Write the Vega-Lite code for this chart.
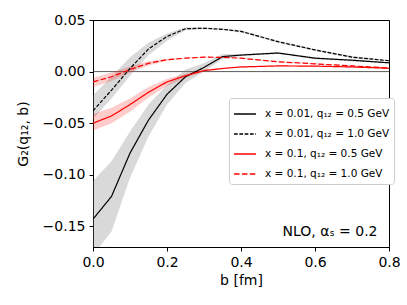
{
  "$schema": "https://vega.github.io/schema/vega-lite/v6.json",
  "width": 296,
  "height": 227,
  "autosize": "none",
  "padding": {"left": 93, "top": 20, "right": 18, "bottom": 58},
  "config": {
    "font": "DejaVu Sans",
    "view": {"stroke": "#000", "strokeWidth": 1},
    "axis": {
      "grid": false, "domainColor": "#000", "tickColor": "#000", "tickSize": 4,
      "labelFontSize": 14, "labelColor": "#000", "titleFontSize": 14, "titleFontWeight": "normal",
      "titleColor": "#000", "labelPadding": 4, "labelFlush": false
    },
    "legend": {
      "orient": "none", "legendX": 136, "legendY": 78, "fillColor": "#fff", "strokeColor": "#cccccc",
      "padding": 4, "cornerRadius": 3, "labelFontSize": 10.5, "labelColor": "#000",
      "symbolType": "stroke", "symbolSize": 480, "symbolStrokeWidth": 1.3, "rowPadding": 2, "labelOffset": 8
    }
  },
  "datasets": {
    "curves": [
    {"b": 0, "x": "0.01", "s": "x = 0.01, q₁₂ = 0.5 GeV", "y": -0.143, "lo": -0.178, "hi": -0.106},
    {"b": 0.05, "x": "0.01", "s": "x = 0.01, q₁₂ = 0.5 GeV", "y": -0.121, "lo": -0.155, "hi": -0.087},
    {"b": 0.1, "x": "0.01", "s": "x = 0.01, q₁₂ = 0.5 GeV", "y": -0.079, "lo": -0.103, "hi": -0.058},
    {"b": 0.15, "x": "0.01", "s": "x = 0.01, q₁₂ = 0.5 GeV", "y": -0.047, "lo": -0.063, "hi": -0.032},
    {"b": 0.2, "x": "0.01", "s": "x = 0.01, q₁₂ = 0.5 GeV", "y": -0.022, "lo": -0.032, "hi": -0.013},
    {"b": 0.25, "x": "0.01", "s": "x = 0.01, q₁₂ = 0.5 GeV", "y": -0.005, "lo": -0.011, "hi": 0.002},
    {"b": 0.3, "x": "0.01", "s": "x = 0.01, q₁₂ = 0.5 GeV", "y": 0.004, "lo": 0.0, "hi": 0.008},
    {"b": 0.35, "x": "0.01", "s": "x = 0.01, q₁₂ = 0.5 GeV", "y": 0.0145, "lo": 0.012, "hi": 0.017},
    {"b": 0.4, "x": "0.01", "s": "x = 0.01, q₁₂ = 0.5 GeV", "y": 0.016, "lo": 0.015, "hi": 0.017},
    {"b": 0.5, "x": "0.01", "s": "x = 0.01, q₁₂ = 0.5 GeV", "y": 0.018, "lo": 0.017, "hi": 0.019},
    {"b": 0.6, "x": "0.01", "s": "x = 0.01, q₁₂ = 0.5 GeV", "y": 0.013, "lo": 0.012, "hi": 0.014},
    {"b": 0.7, "x": "0.01", "s": "x = 0.01, q₁₂ = 0.5 GeV", "y": 0.011, "lo": 0.010, "hi": 0.012},
    {"b": 0.8, "x": "0.01", "s": "x = 0.01, q₁₂ = 0.5 GeV", "y": 0.0085, "lo": 0.008, "hi": 0.009},

    {"b": 0, "x": "0.01", "s": "x = 0.01, q₁₂ = 1.0 GeV", "y": -0.038, "lo": -0.046, "hi": -0.023},
    {"b": 0.05, "x": "0.01", "s": "x = 0.01, q₁₂ = 1.0 GeV", "y": -0.018, "lo": -0.026, "hi": -0.005},
    {"b": 0.1, "x": "0.01", "s": "x = 0.01, q₁₂ = 1.0 GeV", "y": 0.003, "lo": -0.004, "hi": 0.014},
    {"b": 0.15, "x": "0.01", "s": "x = 0.01, q₁₂ = 1.0 GeV", "y": 0.022, "lo": 0.016, "hi": 0.028},
    {"b": 0.2, "x": "0.01", "s": "x = 0.01, q₁₂ = 1.0 GeV", "y": 0.034, "lo": 0.030, "hi": 0.037},
    {"b": 0.25, "x": "0.01", "s": "x = 0.01, q₁₂ = 1.0 GeV", "y": 0.0415, "lo": 0.040, "hi": 0.043},
    {"b": 0.3, "x": "0.01", "s": "x = 0.01, q₁₂ = 1.0 GeV", "y": 0.042, "lo": 0.041, "hi": 0.043},
    {"b": 0.35, "x": "0.01", "s": "x = 0.01, q₁₂ = 1.0 GeV", "y": 0.041, "lo": 0.040, "hi": 0.042},
    {"b": 0.4, "x": "0.01", "s": "x = 0.01, q₁₂ = 1.0 GeV", "y": 0.039, "lo": 0.038, "hi": 0.040},
    {"b": 0.5, "x": "0.01", "s": "x = 0.01, q₁₂ = 1.0 GeV", "y": 0.029, "lo": 0.028, "hi": 0.030},
    {"b": 0.6, "x": "0.01", "s": "x = 0.01, q₁₂ = 1.0 GeV", "y": 0.021, "lo": 0.020, "hi": 0.022},
    {"b": 0.7, "x": "0.01", "s": "x = 0.01, q₁₂ = 1.0 GeV", "y": 0.014, "lo": 0.013, "hi": 0.015},
    {"b": 0.8, "x": "0.01", "s": "x = 0.01, q₁₂ = 1.0 GeV", "y": 0.0105, "lo": 0.010, "hi": 0.011},

    {"b": 0, "x": "0.1", "s": "x = 0.1, q₁₂ = 0.5 GeV", "y": -0.050, "lo": -0.057, "hi": -0.041},
    {"b": 0.05, "x": "0.1", "s": "x = 0.1, q₁₂ = 0.5 GeV", "y": -0.043, "lo": -0.050, "hi": -0.035},
    {"b": 0.1, "x": "0.1", "s": "x = 0.1, q₁₂ = 0.5 GeV", "y": -0.032, "lo": -0.039, "hi": -0.026},
    {"b": 0.15, "x": "0.1", "s": "x = 0.1, q₁₂ = 0.5 GeV", "y": -0.020, "lo": -0.025, "hi": -0.015},
    {"b": 0.2, "x": "0.1", "s": "x = 0.1, q₁₂ = 0.5 GeV", "y": -0.010, "lo": -0.014, "hi": -0.007},
    {"b": 0.25, "x": "0.1", "s": "x = 0.1, q₁₂ = 0.5 GeV", "y": -0.004, "lo": -0.006, "hi": -0.002},
    {"b": 0.3, "x": "0.1", "s": "x = 0.1, q₁₂ = 0.5 GeV", "y": 0.001, "lo": 0.0, "hi": 0.002},
    {"b": 0.35, "x": "0.1", "s": "x = 0.1, q₁₂ = 0.5 GeV", "y": 0.003, "lo": 0.0025, "hi": 0.0035},
    {"b": 0.4, "x": "0.1", "s": "x = 0.1, q₁₂ = 0.5 GeV", "y": 0.0045, "lo": 0.004, "hi": 0.005},
    {"b": 0.5, "x": "0.1", "s": "x = 0.1, q₁₂ = 0.5 GeV", "y": 0.0055, "lo": 0.005, "hi": 0.006},
    {"b": 0.6, "x": "0.1", "s": "x = 0.1, q₁₂ = 0.5 GeV", "y": 0.0053, "lo": 0.005, "hi": 0.0057},
    {"b": 0.7, "x": "0.1", "s": "x = 0.1, q₁₂ = 0.5 GeV", "y": 0.0045, "lo": 0.004, "hi": 0.005},
    {"b": 0.8, "x": "0.1", "s": "x = 0.1, q₁₂ = 0.5 GeV", "y": 0.0032, "lo": 0.003, "hi": 0.0035},

    {"b": 0, "x": "0.1", "s": "x = 0.1, q₁₂ = 1.0 GeV", "y": -0.010, "lo": -0.015, "hi": -0.006},
    {"b": 0.05, "x": "0.1", "s": "x = 0.1, q₁₂ = 1.0 GeV", "y": -0.005, "lo": -0.009, "hi": -0.001},
    {"b": 0.1, "x": "0.1", "s": "x = 0.1, q₁₂ = 1.0 GeV", "y": 0.002, "lo": -0.001, "hi": 0.005},
    {"b": 0.15, "x": "0.1", "s": "x = 0.1, q₁₂ = 1.0 GeV", "y": 0.008, "lo": 0.006, "hi": 0.010},
    {"b": 0.2, "x": "0.1", "s": "x = 0.1, q₁₂ = 1.0 GeV", "y": 0.0115, "lo": 0.0105, "hi": 0.0125},
    {"b": 0.25, "x": "0.1", "s": "x = 0.1, q₁₂ = 1.0 GeV", "y": 0.013, "lo": 0.0125, "hi": 0.0135},
    {"b": 0.3, "x": "0.1", "s": "x = 0.1, q₁₂ = 1.0 GeV", "y": 0.014, "lo": 0.0135, "hi": 0.0145},
    {"b": 0.35, "x": "0.1", "s": "x = 0.1, q₁₂ = 1.0 GeV", "y": 0.0138, "lo": 0.0133, "hi": 0.0143},
    {"b": 0.4, "x": "0.1", "s": "x = 0.1, q₁₂ = 1.0 GeV", "y": 0.013, "lo": 0.0125, "hi": 0.0135},
    {"b": 0.5, "x": "0.1", "s": "x = 0.1, q₁₂ = 1.0 GeV", "y": 0.0095, "lo": 0.009, "hi": 0.010},
    {"b": 0.6, "x": "0.1", "s": "x = 0.1, q₁₂ = 1.0 GeV", "y": 0.0075, "lo": 0.007, "hi": 0.008},
    {"b": 0.7, "x": "0.1", "s": "x = 0.1, q₁₂ = 1.0 GeV", "y": 0.0055, "lo": 0.005, "hi": 0.006},
    {"b": 0.8, "x": "0.1", "s": "x = 0.1, q₁₂ = 1.0 GeV", "y": 0.0035, "lo": 0.003, "hi": 0.004}
    ],
    "single": [{}]
  },
  "layer": [
    {
      "data": {"name": "single"},
      "mark": {"type": "rule", "color": "#333333", "strokeWidth": 0.8},
      "encoding": {
        "y": {"datum": 0, "type": "quantitative", "scale": {"domain": [-0.17, 0.05], "nice": false, "zero": false},
          "axis": {"values": [-0.15, -0.1, -0.05, 0, 0.05], "format": ".2f", "title": "G₂(q₁₂, b)", "titlePadding": 12}},
        "x": {"datum": 0, "type": "quantitative", "scale": {"domain": [0, 0.8], "nice": false, "zero": false},
          "axis": {"values": [0, 0.2, 0.4, 0.6, 0.8], "format": ".1f", "title": "b [fm]", "titlePadding": 4}},
        "x2": {"datum": 0.8}
      }
    },
    {
      "data": {"name": "curves"},
      "transform": [{"filter": "datum.x === '0.01'"}],
      "mark": {"type": "area", "opacity": 0.3, "color": "#808080", "clip": true},
      "encoding": {
        "x": {"field": "b", "type": "quantitative"},
        "y": {"field": "lo", "type": "quantitative"},
        "y2": {"field": "hi"},
        "detail": {"field": "s"}
      }
    },
    {
      "data": {"name": "curves"},
      "transform": [{"filter": "datum.x === '0.1'"}],
      "mark": {"type": "area", "opacity": 0.2, "color": "#ff0000", "clip": true},
      "encoding": {
        "x": {"field": "b", "type": "quantitative"},
        "y": {"field": "lo", "type": "quantitative"},
        "y2": {"field": "hi"},
        "detail": {"field": "s"}
      }
    },
    {
      "data": {"name": "curves"},
      "mark": {"type": "line", "clip": true, "strokeWidth": 1.2},
      "encoding": {
        "x": {"field": "b", "type": "quantitative"},
        "y": {"field": "y", "type": "quantitative"},
        "color": {"field": "s", "type": "nominal", "title": null,
          "scale": {"domain": ["x = 0.01, q₁₂ = 0.5 GeV", "x = 0.01, q₁₂ = 1.0 GeV", "x = 0.1, q₁₂ = 0.5 GeV", "x = 0.1, q₁₂ = 1.0 GeV"],
                    "range": ["#000000", "#000000", "#ff0000", "#ff0000"]}},
        "strokeDash": {"field": "s", "type": "nominal", "title": null,
          "scale": {"domain": ["x = 0.01, q₁₂ = 0.5 GeV", "x = 0.01, q₁₂ = 1.0 GeV", "x = 0.1, q₁₂ = 0.5 GeV", "x = 0.1, q₁₂ = 1.0 GeV"],
                    "range": [[1, 0], [3.7, 1.6], [1, 0], [5.5, 2.4]]}}
      }
    },
    {
      "data": {"name": "single"},
      "mark": {"type": "text", "align": "right", "baseline": "alphabetic", "fontSize": 14, "color": "#000", "text": "NLO, αₛ = 0.2"},
      "encoding": {"x": {"datum": 0.769, "type": "quantitative"}, "y": {"datum": -0.159, "type": "quantitative"}}
    }
  ]
}
